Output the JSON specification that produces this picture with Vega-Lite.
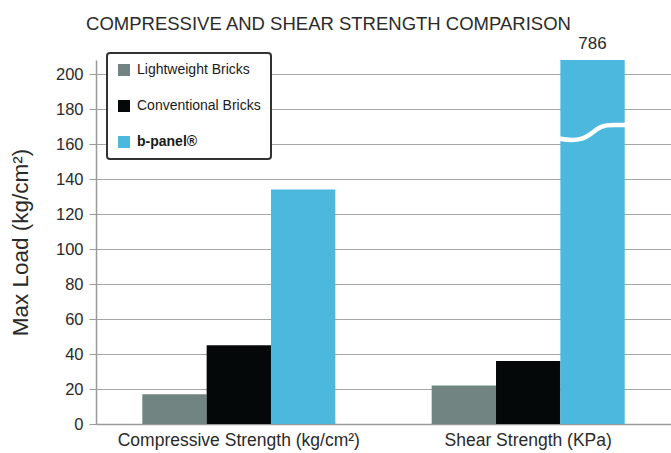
{
  "$schema": "https://vega.github.io/schema/vega-lite/v6.json",
  "autosize": "none",
  "width": 575,
  "height": 364,
  "padding": {"left": 96, "top": 60, "right": 0, "bottom": 29},
  "background": "white",
  "title": {
    "text": "COMPRESSIVE AND SHEAR STRENGTH COMPARISON",
    "fontSize": 18.5,
    "fontWeight": "normal",
    "font": "Liberation Sans",
    "color": "#2a2a2a",
    "anchor": "middle",
    "dx": -55,
    "offset": 2
  },
  "config": {
    "view": {"stroke": null},
    "font": "Liberation Sans"
  },
  "encoding": {
    "x": {
      "field": "category",
      "type": "nominal",
      "scale": {"domain": ["Compressive Strength (kg/cm²)", "Shear Strength (KPa)"], "paddingInner": 0.333, "paddingOuter": 0.16},
      "axis": {
        "title": null,
        "labelAngle": 0,
        "labelFontSize": 17.5,
        "labelColor": "#2a2a2a",
        "labelPadding": 7,
        "labelLimit": 400,
        "ticks": false,
        "domainColor": "#9a9a9a",
        "domainWidth": 1.5,
        "grid": false
      }
    },
    "xOffset": {
      "field": "type",
      "type": "nominal",
      "scale": {"domain": ["Lightweight  Bricks", "Conventional Bricks", "b-panel®"], "paddingInner": 0, "paddingOuter": 0}
    },
    "y": {
      "field": "value",
      "type": "quantitative",
      "scale": {"domain": [0, 208], "nice": false, "clamp": true},
      "axis": {
        "title": "Max Load (kg/cm²)",
        "titleFontSize": 22.5,
        "titleFontWeight": "normal",
        "titleColor": "#2a2a2a",
        "titlePadding": 23,
        "values": [0, 20, 40, 60, 80, 100, 120, 140, 160, 180, 200],
        "labelOverlap": false,
        "labelFontSize": 16.5,
        "labelColor": "#2a2a2a",
        "labelPadding": 6,
        "tickSize": 7,
        "tickColor": "#9a9a9a",
        "domainColor": "#9a9a9a",
        "domainWidth": 1.5,
        "grid": true,
        "gridColor": "#a6a6a6",
        "gridWidth": 1.2
      }
    }
  },
  "layer": [
    {
      "data": {
        "values": [
          {"category": "Compressive Strength (kg/cm²)", "type": "Lightweight  Bricks", "value": 17},
          {"category": "Compressive Strength (kg/cm²)", "type": "Conventional Bricks", "value": 45},
          {"category": "Compressive Strength (kg/cm²)", "type": "b-panel®", "value": 134},
          {"category": "Shear Strength (KPa)", "type": "Lightweight  Bricks", "value": 22},
          {"category": "Shear Strength (KPa)", "type": "Conventional Bricks", "value": 36},
          {"category": "Shear Strength (KPa)", "type": "b-panel®", "value": 786}
        ]
      },
      "mark": {"type": "bar"},
      "encoding": {
        "color": {
          "field": "type",
          "type": "nominal",
          "scale": {"domain": ["Lightweight  Bricks", "Conventional Bricks", "b-panel®"], "range": ["#718481", "#050808", "#4db8de"]},
          "legend": {
            "title": null,
            "orient": "none",
            "legendX": 11,
            "legendY": -7,
            "symbolType": "square",
            "symbolSize": 144,
            "symbolStrokeWidth": 0,
            "labelFontSize": 14,
            "labelColor": "#1a1a1a",
            "labelOffset": 6,
            "rowPadding": 22,
            "padding": 10,
            "strokeColor": "#333333",
            "fillColor": "white",
            "cornerRadius": 3,
            "labelLimit": 300,
            "encode": {
              "legend": {"update": {"strokeWidth": {"value": 2}}},
              "labels": {"update": {"fontWeight": {"signal": "datum.label === 'b-panel®' ? 'bold' : 'normal'"}}}
            }
          }
        }
      }
    },
    {
      "data": {"values": [{"category": "Shear Strength (KPa)", "type": "b-panel®", "value": 786, "label": "786"}]},
      "mark": {"type": "text", "baseline": "bottom", "dy": -7, "fontSize": 17, "color": "#2a2a2a"},
      "encoding": {
        "text": {"field": "label"}
      }
    },
    {
      "data": {"values": [{"category": "Shear Strength (KPa)", "type": "b-panel®", "value": 167}]},
      "mark": {
        "type": "point",
        "shape": "M-1,0.2 C-0.3,0.35 -0.1,0.1 0.1,-0.05 C0.35,-0.25 0.6,-0.2 1,-0.2",
        "size": 4500,
        "filled": false,
        "stroke": "white",
        "strokeWidth": 4.5,
        "opacity": 1
      }
    }
  ]
}
